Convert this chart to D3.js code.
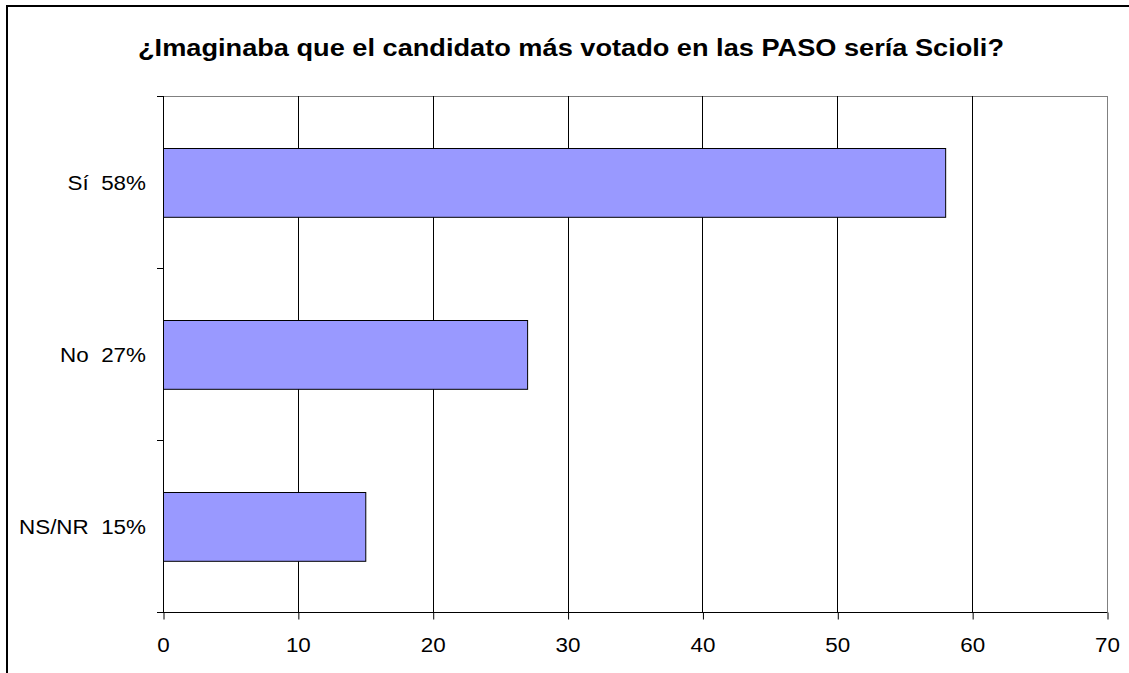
<!DOCTYPE html>
<html>
<head>
<meta charset="utf-8">
<script src="https://cdn.jsdelivr.net/npm/d3@7"></script>
<style>
  body { margin: 0; background: #fff; }
  svg { display: block; font-family: "Liberation Sans", Arial, sans-serif; }
</style>
</head>
<body>
<svg width="1129" height="673"></svg>
<script>
// chart data
const categories = ["Sí", "No", "NS/NR"];
const values = [58, 27, 15];
const xTicks = [0, 10, 20, 30, 40, 50, 60, 70];
const title = "¿Imaginaba que el candidato más votado en las PASO sería Scioli?";

const svg = d3.select("svg");

// the original text is a bit wider than its height suggests, stretch it horizontally
function stretch(sel, factor) {
    sel.each(function() {
        const len = this.getComputedTextLength();
        d3.select(this)
            .attr("textLength", len * factor)
            .attr("lengthAdjust", "spacingAndGlyphs");
    });
}

// outer frame (runs off the right and bottom edges)
svg.append("rect")
    .attr("x", 7).attr("y", 6)
    .attr("width", 1140).attr("height", 700)
    .attr("fill", "none")
    .attr("stroke", "#000")
    .attr("stroke-width", 2);

const plot = { left: 163, right: 1107, top: 96, bottom: 612 };

let x = d3.scaleLinear().domain([0, 70]).range([plot.left, plot.right]);
let y = d3.scaleBand().domain(categories).range([plot.top, plot.bottom])
    .paddingInner(0.6).paddingOuter(0.3);

// plot area border (grey)
svg.append("rect")
    .attr("x", plot.left + 0.5).attr("y", plot.top + 0.5)
    .attr("width", plot.right - plot.left).attr("height", plot.bottom - plot.top)
    .attr("fill", "none")
    .attr("stroke", "#808080");

// vertical gridlines
svg.append("g")
    .selectAll("line")
    .data(xTicks.filter(d => d > 0 && d < 70))
    .join("line")
    .attr("x1", d => Math.round(x(d)) + 0.5).attr("x2", d => Math.round(x(d)) + 0.5)
    .attr("y1", plot.top).attr("y2", plot.bottom)
    .attr("stroke", "#000");

// bars
svg.append("g")
    .selectAll("rect")
    .data(values)
    .join("rect")
    .attr("x", x(0) + 0.5)
    .attr("y", (d, i) => Math.round(y(categories[i])) + 0.5)
    .attr("width", d => x(d) - x(0))
    .attr("height", y.bandwidth())
    .attr("fill", "#9999FF")
    .attr("stroke", "#000");

// x axis
const xAxis = svg.append("g")
    .attr("transform", "translate(0," + (plot.bottom + 0.5) + ")")
    .call(d3.axisBottom(x).tickValues(xTicks).tickSize(7).tickSizeOuter(0));
xAxis.select(".domain").remove();
xAxis.append("line")
    .attr("x1", plot.left - 6).attr("x2", plot.right)
    .attr("stroke", "#000");
xAxis.selectAll(".tick line").attr("stroke", "#000").attr("transform", "translate(0.5,0)");
xAxis.selectAll(".tick text")
    .attr("fill", "#000")
    .attr("y", 39.5)
    .attr("dy", null)
    .style("font-size", "20px")
    .style("font-family", "'Liberation Sans', Arial, sans-serif")
    .call(stretch, 1.12);

// y axis: line with ticks at category boundaries
const yg = svg.append("g");
yg.append("line")
    .attr("x1", plot.left + 0.5).attr("x2", plot.left + 0.5)
    .attr("y1", plot.top).attr("y2", plot.bottom)
    .attr("stroke", "#000");
yg.selectAll(".bound")
    .data(d3.range(categories.length + 1))
    .join("line")
    .attr("class", "bound")
    .attr("x1", plot.left - 6).attr("x2", plot.left)
    .attr("y1", i => Math.round(plot.top + i * y.step()) + 0.5)
    .attr("y2", i => Math.round(plot.top + i * y.step()) + 0.5)
    .attr("stroke", "#000");

// category labels
yg.selectAll(".lbl")
    .data(categories)
    .join("text")
    .attr("class", "lbl")
    .attr("x", 146)
    .attr("y", d => y(d) + y.bandwidth() / 2 + 8)
    .attr("text-anchor", "end")
    .attr("xml:space", "preserve")
    .style("white-space", "pre")
    .style("font-size", "20px")
    .text((d, i) => d + "  " + values[i] + "%")
    .call(stretch, 1.12);

// title
svg.append("text")
    .attr("x", 571)
    .attr("y", 56)
    .attr("text-anchor", "middle")
    .style("font-size", "23px")
    .style("font-weight", "bold")
    .text(title)
    .attr("textLength", 866)
    .attr("lengthAdjust", "spacingAndGlyphs");
</script>
</body>
</html>
